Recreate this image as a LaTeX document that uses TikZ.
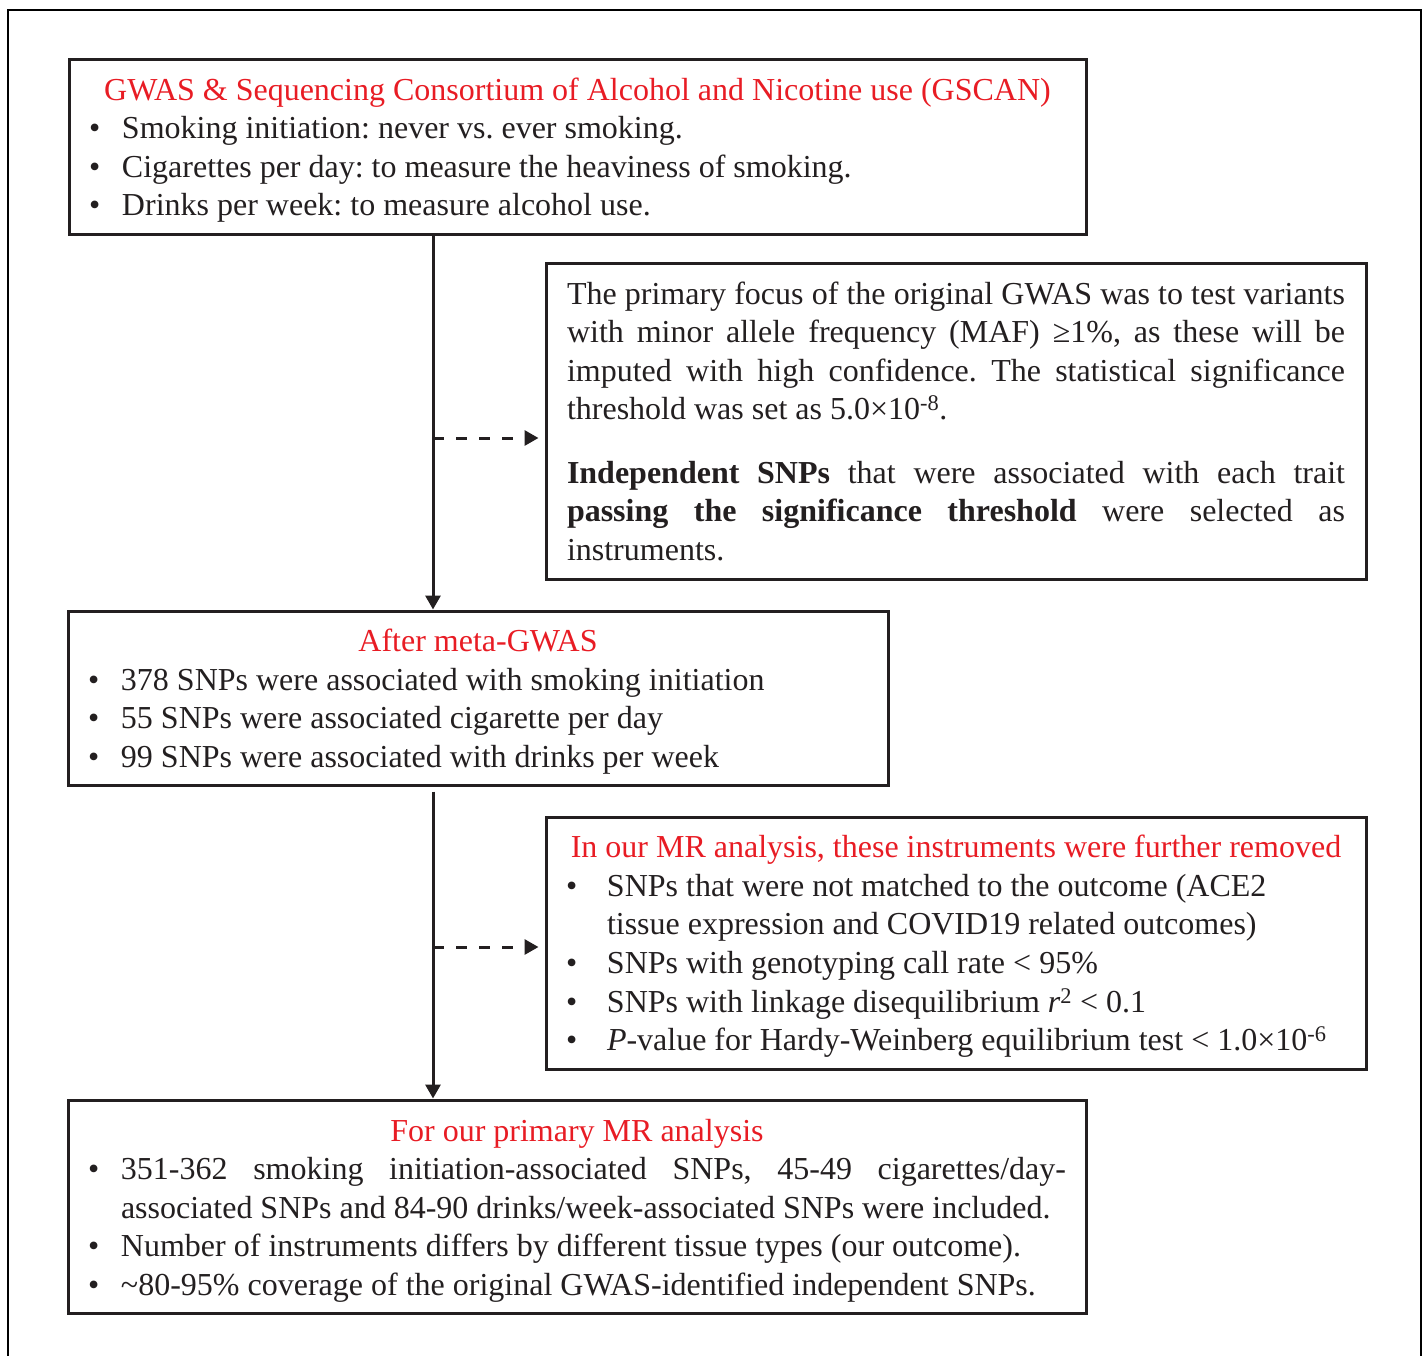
\documentclass[tikz,border=0pt]{standalone}
\usepackage{fontspec}
\setmainfont{Liberation Serif}
\usetikzlibrary{arrows.meta}

\definecolor{titlered}{RGB}{232,28,36}
\definecolor{inkdark}{RGB}{35,31,32}

% red heading of a box; the optional rule sets how far the first line sits below the top
\newcommand{\boxtitle}[2][24pt]{{\centering\color{titlered}\rule{0pt}{#1}#2\par}}
\newcommand{\bitem}[2][33pt]{\par\hangindent=#1\hangafter=1\noindent\makebox[#1][l]{\textbullet}#2}

\begin{document}
\begin{tikzpicture}[x=1pt, y=-1pt,
        framebox/.style={draw=inkdark, line width=3pt, inner xsep=20pt,
          inner ysep=0pt, text=inkdark, align=justify,
          font=\fontsize{32}{38.6}\selectfont,
          execute at begin node={\frenchspacing\spaceskip=0.25em plus 0.3em minus 0.08em}},
        flowline/.style={draw=inkdark, line width=3pt},
        dashline/.style={draw=inkdark, line width=3pt, dash pattern=on 11pt off 12pt},
        >={Triangle[length=14pt,width=15pt]}]
     \useasboundingbox (0,0) rectangle (1427,1355);
     \draw[line width=1.2pt] (8,1365) -- (8,10) -- (1421,10) -- (1421,1365);

     \node (gscan) at (577.5,146.5) [framebox, minimum width=1017pt,
        minimum height=175pt, text width=977pt] {%
        \boxtitle[29.8pt]{GWAS \& Sequencing Consortium of Alcohol and Nicotine use (GSCAN)}
        \bitem{Smoking initiation: never vs. ever smoking.}
        \bitem{Cigarettes per day: to measure the heaviness of smoking.}
        \bitem{Drinks per week: to measure alcohol use.}};
     \node (focus) at (956,421) [framebox, inner xsep=21pt, minimum width=820pt,
        minimum height=316pt, text width=778pt] {%
        \rule{0pt}{23pt}The primary focus of the original GWAS was to test variants\linebreak
        with minor allele frequency (MAF) ≥1\%, as these will be\linebreak
        imputed with high confidence. The statistical significance\linebreak
        threshold was set as 5.0×10\textsuperscript{-8}.\par
        \vspace{24.6pt}
        \textbf{Independent SNPs} that were associated with each trait\linebreak
        \textbf{passing the significance threshold} were selected as\linebreak
        instruments.};
     \node (meta) at (478,698) [framebox, minimum width=820pt,
        minimum height=174pt, text width=780pt] {%
        \boxtitle[29.8pt]{After meta-GWAS}
        \bitem{378 SNPs were associated with smoking initiation}
        \bitem{55 SNPs were associated cigarette per day}
        \bitem{99 SNPs were associated with drinks per week}};
     \node (removed) at (956,943) [framebox, minimum width=820pt,
        minimum height=252pt, text width=780pt] {%
        \boxtitle[29.4pt]{In our MR analysis, these instruments were further removed}
        \bitem[41pt]{SNPs that were not matched to the outcome (ACE2\newline
          tissue expression and COVID19 related outcomes)}
        \bitem[41pt]{SNPs with genotyping call rate < 95\%}
        \bitem[41pt]{SNPs with linkage disequilibrium \textit{r}\textsuperscript{2} < 0.1}
        \bitem[41pt]{\textit{P}-value for Hardy-Weinberg equilibrium test < 1.0×10\textsuperscript{-6}}};
     \node (primary) at (577,1206.5) [framebox, minimum width=1018pt,
        minimum height=213pt, text width=978pt] {%
        \boxtitle[30.6pt]{For our primary MR analysis}
        \bitem{351-362 smoking initiation-associated SNPs, 45-49 cigarettes/day-\linebreak
          associated SNPs and 84-90 drinks/week-associated SNPs were included.}
        \bitem{Number of instruments differs by different tissue types (our outcome).}
        \bitem{\textasciitilde80-95\% coverage of the original GWAS-identified independent SNPs.}};

     \coordinate (tap1) at (433,438);
     \coordinate (tap2) at (433,947);
     \draw[flowline,->] (tap1 |- gscan.south) -- (tap1 |- meta.north);
     \draw[flowline,->,shorten <=5pt] (tap2 |- meta.south) -- (tap2 |- primary.north);
     \draw[dashline,->,shorten >=6pt] (tap1) -- (tap1 -| focus.west);
     \draw[dashline,->,shorten >=6pt] (tap2) -- (tap2 -| removed.west);
\end{tikzpicture}
\end{document}
